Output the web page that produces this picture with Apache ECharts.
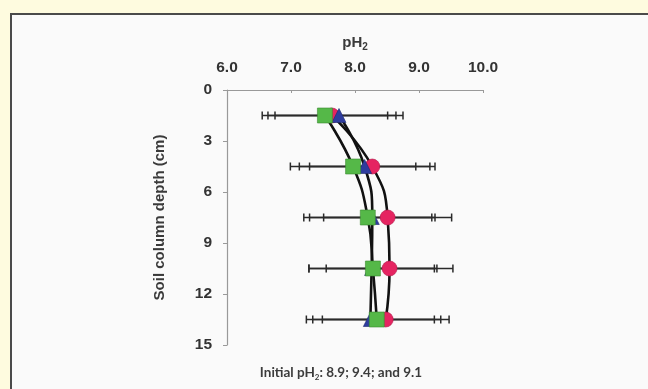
<!DOCTYPE html>
<html><head><meta charset="utf-8">
<script src="https://cdn.jsdelivr.net/npm/echarts@6/dist/echarts.min.js"></script>
<style>html,body{margin:0;padding:0;background:#FEFBDF;}#c{width:648px;height:389px;}</style>
</head><body><div id="c"></div>
<script>
// Depth (cm) for each measurement row
const depths = [1.5, 4.5, 7.5, 10.5, 13.5];
// pH values per series
const greenPH = [7.53, 7.97, 8.20, 8.28, 8.34];
const bluePH  = [7.75, 8.15, 8.27, 8.26, 8.24];
const redPH   = [7.64, 8.27, 8.51, 8.54, 8.48];
// horizontal error (± pH)
const greenErr = [0.98, 0.98, 1.00, 1.00, 1.00];
const blueErr  = [1.00, 1.02, 0.98, 0.98, 1.00];
const redErr   = [1.00, 0.98, 1.00, 0.99, 0.99];
const xTicks = [6, 7, 8, 9, 10];
const yTicks = [0, 3, 6, 9, 12, 15];

const chart = echarts.init(document.getElementById('c'), null, {renderer: 'canvas'});
const pts = (xs) => xs.map((x, i) => [x, depths[i]]);
const errData = (xs, es) => xs.map((x, i) => [x - es[i], x + es[i], depths[i]]);

function errRender(params, api) {
  const lo = api.coord([api.value(0), api.value(2)]);
  const hi = api.coord([api.value(1), api.value(2)]);
  const h = 4;
  const st = {stroke: '#2a2a2a', lineWidth: 1.5};
  return {type: 'group', children: [
    {type: 'line', shape: {x1: lo[0], y1: lo[1], x2: hi[0], y2: hi[1]}, style: st},
    {type: 'line', shape: {x1: lo[0], y1: lo[1] - h, x2: lo[0], y2: lo[1] + h}, style: st},
    {type: 'line', shape: {x1: hi[0], y1: hi[1] - h, x2: hi[0], y2: hi[1] + h}, style: st}
  ]};
}

const lineStyle = {color: '#111', width: 2.6};
const mk = (xs) => ({type: 'line', data: pts(xs), smooth: 0.5, symbol: 'none', lineStyle, z: 3, silent: true});

chart.setOption({
  animation: false,
  backgroundColor: '#FEFBDF',
  graphic: [
    {type: 'rect', shape: {x: 11, y: 14, width: 660, height: 400}, style: {fill: '#FAFAFA', stroke: '#4a4a4a', lineWidth: 2}, z: -10},
    {type: 'text', style: {
      x: 341, y: 373, text: '{a|Initial pH}{b|2}{a|: 8.9; 9.4; and 9.1}', align: 'center', verticalAlign: 'middle',
      rich: {a: {fontFamily: 'Lato', fontSize: 13.5, fontWeight: 'bold', fill: '#3c3c3c', lineHeight: 16},
             b: {fontFamily: 'Lato', fontSize: 8, fontWeight: 'bold', fill: '#3c3c3c', lineHeight: 16, verticalAlign: 'bottom', padding: [6, 0, 0, 0]}}
    }, z: 10}
  ],
  grid: {left: 227, right: 165, top: 90, bottom: 44},
  xAxis: {
    type: 'value', position: 'top', min: xTicks[0], max: xTicks[xTicks.length - 1], interval: 1,
    name: '{a|pH}{b|2}', nameLocation: 'middle', nameGap: 38,
    nameTextStyle: {rich: {
      a: {fontFamily: 'Arial', fontSize: 15, fontWeight: 'bold', color: '#3a3a3a', lineHeight: 18},
      b: {fontFamily: 'Arial', fontSize: 10, fontWeight: 'bold', color: '#3a3a3a', lineHeight: 18, verticalAlign: 'bottom', padding: [7, 0, 0, 0]}
    }},
    axisLine: {show: true, lineStyle: {color: '#999', width: 1.2}},
    axisTick: {show: true, inside: true, length: 3, lineStyle: {color: '#999'}},
    splitLine: {show: false},
    axisLabel: {formatter: (v) => v.toFixed(1), margin: 14, fontFamily: 'Arial', fontSize: 15.5, fontWeight: 'bold', color: '#333'}
  },
  yAxis: {
    type: 'value', inverse: true, min: yTicks[0], max: yTicks[yTicks.length - 1], interval: 3,
    name: 'Soil column depth (cm)', nameLocation: 'middle', nameGap: 60, nameRotate: 90,
    nameTextStyle: {fontFamily: 'Arial', fontSize: 15, fontWeight: 'bold', color: '#3a3a3a'},
    axisLine: {show: true, lineStyle: {color: '#999', width: 1.2}},
    axisTick: {show: true, length: 4, lineStyle: {color: '#999'}},
    splitLine: {show: false},
    axisLabel: {margin: 15, fontFamily: 'Arial', fontSize: 15.5, fontWeight: 'bold', color: '#333'}
  },
  series: [
    {type: 'custom', renderItem: errRender, data: errData(greenPH, greenErr), z: 2, silent: true},
    {type: 'custom', renderItem: errRender, data: errData(bluePH, blueErr), z: 2, silent: true},
    {type: 'custom', renderItem: errRender, data: errData(redPH, redErr), z: 2, silent: true},
    mk(greenPH), mk(bluePH), mk(redPH),
    {type: 'scatter', data: pts(redPH), symbol: 'circle', symbolSize: 15, itemStyle: {color: '#E52461', borderColor: '#b01848', borderWidth: 0.6, opacity: 1}, z: 5},
    {type: 'scatter', data: pts(bluePH), symbol: 'triangle', symbolSize: 14, itemStyle: {color: '#2E3C9E', borderColor: '#1e2a70', borderWidth: 0.6, opacity: 1}, z: 6},
    {type: 'scatter', data: pts(greenPH), symbol: 'rect', symbolSize: 15, itemStyle: {color: '#55B848', borderColor: '#3a8a30', borderWidth: 0.6, opacity: 1}, z: 7}
  ]
});
</script></body></html>
